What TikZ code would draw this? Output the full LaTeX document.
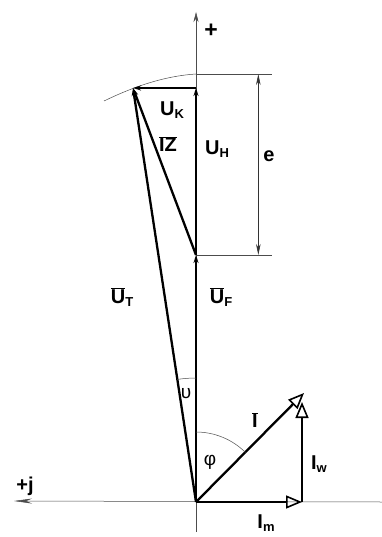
\documentclass[tikz,border=0pt]{standalone}
\usepackage{fontspec}
\setmainfont{Liberation Sans}
\usetikzlibrary{arrows.meta, positioning, calc}

\newcommand\ovl[1]{$\overline{\hbox{#1}}$}
\newcommand\sub[1]{\raisebox{-0.35ex}{\fontsize{13}{13}\selectfont #1}}

\begin{document}
\begin{tikzpicture}[
    x=1pt, y=-1pt,
    vec/.style={line width=2.3pt, -{Stealth[length=8pt, width=5pt]}},
    ivec/.style={line width=2.3pt, -{Triangle[open, length=16pt, width=13pt, line width=1.6pt]}},
    axis/.style={line width=0.5pt, black!70},
    dim/.style={line width=0.5pt, black!80, {Stealth[length=11pt, width=4.5pt]}-{Stealth[length=11pt, width=4.5pt]}},
    lbl/.style={font=\fontsize{20}{20}\selectfont\bfseries, inner sep=1pt},
    ang/.style={font=\fontsize{19}{19}\selectfont, inner sep=1pt}
]
    \useasboundingbox (0,0) rectangle (382,537);

    % points of the diagram
    \coordinate (O)  at (196,502);
    \coordinate (F)  at (196,255);
    \coordinate (H)  at (196,88);
    \coordinate (K)  at (133,88);
    \coordinate (I)  at (304,393);
    \coordinate (M)  at (302,502);
    \coordinate (Iw) at (302,402);

    % axes
    \coordinate (ytop) at (196,12);
    \coordinate (ybot) at (196,532);
    \coordinate (xleft) at (14,501);
    \coordinate (xright) at (382,502);
    \draw[axis, -{Stealth[length=10pt, width=5pt]}] (ybot) -- (ytop);
    \draw[axis, -{Stealth[length=18pt, width=5pt]}] (xright) -- (xleft);
    \node[lbl, font=\fontsize{23}{23}\selectfont\bfseries] (plus) at (211,31) {+};
    \node[lbl] (plusj) at (25,486) {+j};

    % locus arc and dimension e
    \coordinate (arcA) at (104,101);
    \coordinate (e1) at (196,74);
    \coordinate (e1r) at (272,74);
    \coordinate (e2r) at (272,255);
    \draw[axis] (arcA) .. controls (135,86) and (165,76) .. (e1);
    \draw[axis] (e1) -- (e1r);
    \draw[axis] (F) -- (e2r);
    \draw[dim] ($(e1)!0.82!(e1r)$) -- ($(F)!0.82!(e2r)$);
    \node[lbl] (e) at (269,156) {e};

    % voltage vectors
    \draw[vec] (O) -- (F);
    \draw[vec] (F) -- (H);
    \draw[vec] (H) -- (K);
    \draw[vec] (O) -- (K);
    \draw[vec] (F) -- (K);

    \node[lbl] (UK) at (172,110) {U\sub{K}};
    \node[lbl] (IZ) at (168,144) {\ovl{IZ}};
    \node[lbl] (UH) at (217,149) {U\sub{H}};
    \node[lbl] (UT) at (122,297) {\ovl{U}\sub{T}};
    \node[lbl] (UF) at (221,297) {\ovl{U}\sub{F}};

    % current vectors
    \draw[ivec] (O) -- (I);
    \draw[ivec] (O) -- (M);
    \draw[ivec] (M) -- (Iw);
    \node[lbl] (Il) at (255,420) {\ovl{I}};
    \node[lbl] (Iwl) at (319,464) {I\sub{w}};
    \node[lbl] (Iml) at (266,523) {I\sub{m}};

    % angles
    \draw[axis] (196,432) arc[start angle=-90, end angle=-45, radius=70];
    \draw[axis] (196,378) arc[start angle=-90, end angle=-98.7, radius=124];
    \node[ang] (phi) at (210,462) {φ};
    \node[ang] (ups) at (186,394) {υ};
\end{tikzpicture}
\end{document}
